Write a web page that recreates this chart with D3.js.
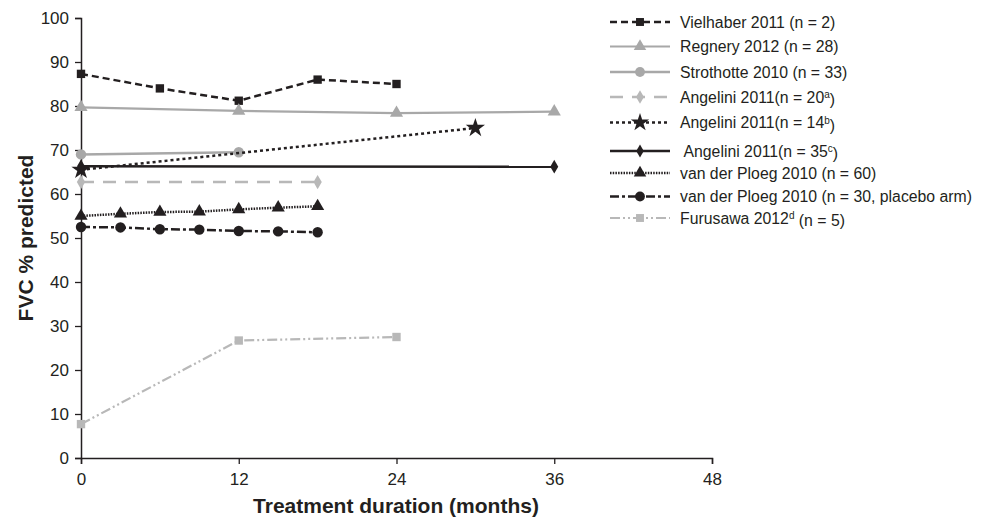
<!DOCTYPE html>
<html>
<head>
<meta charset="utf-8">
<script src="https://cdn.jsdelivr.net/npm/d3@7"></script>
<style>
  body { margin: 0; background: #fff; }
  text { font-family: "Liberation Sans", Arial, sans-serif; fill: #231f20; }
</style>
</head>
<body>
<script>
// months on the x axis, FVC % predicted on y
var vielhaberX = [0, 6, 12, 18, 24];
var vielhaberY = [87.3, 84.0, 81.2, 86.0, 85.0];

var regneryX = [0, 12, 24, 36];
var regneryY = [79.7, 78.9, 78.4, 78.7];

var strothotteX = [0, 12];
var strothotteY = [69.0, 69.5];

var angelini20X = [0, 18];
var angelini20Y = [62.7, 62.7];

var angelini14X = [0, 30];
var angelini14Y = [65.5, 75.0];

var angelini35X = [0, 36];
var angelini35Y = [66.3, 66.2];

var ploeg60X = [0, 3, 6, 9, 12, 15, 18];
var ploeg60Y = [55.0, 55.5, 55.9, 56.0, 56.5, 56.9, 57.2];

var ploeg30X = [0, 3, 6, 9, 12, 15, 18];
var ploeg30Y = [52.5, 52.4, 52.0, 51.9, 51.6, 51.5, 51.3];

var furusawaX = [0, 12, 24];
var furusawaY = [7.7, 26.7, 27.5];

var xTicks = [0, 12, 24, 36, 48];
var yTicks = [0, 10, 20, 30, 40, 50, 60, 70, 80, 90, 100];

// legend labels: [before superscript, superscript, after]
var legendLabels = [
    ["Vielhaber 2011 (n = 2)", "", ""],
    ["Regnery 2012 (n = 28)", "", ""],
    ["Strothotte 2010 (n = 33)", "", ""],
    ["Angelini 2011(n = 20", "a", ")"],
    ["Angelini 2011(n = 14", "b", ")"],
    [" Angelini 2011(n = 35", "c", ")"],
    ["van der Ploeg 2010 (n = 60)", "", ""],
    ["van der Ploeg 2010 (n = 30, placebo arm)", "", ""],
    ["Furusawa 2012", "d", " (n = 5)"]
];

var dark = "#231f20";
var grey = "#a8a8a8";
var lightGrey = "#b8b8b8";

// series styles
var series = [
    {x: vielhaberX, y: vielhaberY, color: dark, width: 2.5, dash: "7,4", sym: d3.symbolSquare, size: 70},
    {x: regneryX, y: regneryY, color: grey, width: 2.2, dash: null, sym: d3.symbolTriangle, size: 75},
    {x: strothotteX, y: strothotteY, color: grey, width: 2.5, dash: null, sym: d3.symbolCircle, size: 85},
    {x: angelini20X, y: angelini20Y, color: lightGrey, width: 2.5, dash: "13,9", sym: d3.symbolDiamond, size: 60},
    {x: angelini14X, y: angelini14Y, color: dark, width: 2.5, dash: "3,3", sym: d3.symbolStar, size: 115},
    {x: angelini35X, y: angelini35Y, color: dark, width: 2.5, dash: null, sym: d3.symbolDiamond, size: 55},
    {x: ploeg60X, y: ploeg60Y, color: dark, width: 2.5, dash: "1.5,1.2", sym: d3.symbolTriangle, size: 75},
    {x: ploeg30X, y: ploeg30Y, color: dark, width: 2.5, dash: "9,3,3,3", sym: d3.symbolCircle, size: 85},
    {x: furusawaX, y: furusawaY, color: lightGrey, width: 2.2, dash: "10,3,2,3,2,3", sym: d3.symbolSquare, size: 70}
];

var w = 986;
var h = 519;

var svg = d3.select("body")
    .append("svg")
    .attr("width", w)
    .attr("height", h);

var xScale = d3.scaleLinear().domain([0, 48]).range([81, 712]);
var yScale = d3.scaleLinear().domain([0, 100]).range([458, 18]);

// axes
var xAxis = d3.axisBottom(xScale).tickValues(xTicks).tickSizeOuter(0).tickSize(6).tickPadding(9);
var gx = svg.append("g")
    .attr("transform", "translate(0," + yScale(0) + ")")
    .call(xAxis);

var yAxis = d3.axisLeft(yScale).tickValues(yTicks).tickSizeOuter(0).tickSize(6).tickPadding(6);
var gy = svg.append("g")
    .attr("transform", "translate(" + xScale(0) + ",0)")
    .call(yAxis);

[gx, gy].forEach(function (g) {
    g.select(".domain").attr("stroke", dark).attr("stroke-width", 1.5);
    g.selectAll(".tick line").attr("stroke", dark).attr("stroke-width", 1.3);
    g.selectAll(".tick text").style("font-size", "17px").attr("fill", dark)
        .style("font-family", "'Liberation Sans', Arial, sans-serif");
});

svg.append("text")
    .attr("x", 396)
    .attr("y", 513)
    .attr("text-anchor", "middle")
    .style("font-size", "21px")
    .style("font-weight", "bold")
    .text("Treatment duration (months)");

svg.append("text")
    .attr("transform", "translate(33," + yScale(50) + ") rotate(-90)")
    .attr("text-anchor", "middle")
    .style("font-size", "21px")
    .style("font-weight", "bold")
    .text("FVC % predicted");

// lines and markers
var line = d3.line()
    .x(function (d) { return xScale(d[0]); })
    .y(function (d) { return yScale(d[1]); });

var drawOrder = [0, 1, 2, 3, 4, 6, 7, 8, 5];
drawOrder.forEach(function (k) {
    var s = series[k];
    var pts = s.x.map(function (v, i) { return [v, s.y[i]]; });
    svg.append("path")
        .datum(pts)
        .attr("fill", "none")
        .attr("stroke", s.color)
        .attr("stroke-width", s.width)
        .attr("stroke-dasharray", s.dash)
        .attr("d", line);
    svg.selectAll(null)
        .data(pts)
        .enter()
        .append("path")
        .attr("transform", function (d) { return "translate(" + xScale(d[0]) + "," + yScale(d[1]) + ")"; })
        .attr("d", d3.symbol().type(s.sym).size(s.size))
        .attr("fill", s.color);
});

// legend
var legendRowY = [22, 46.5, 72, 97, 122.5, 151, 173, 196.5, 218];
var legend = svg.selectAll(".legend")
    .data(series)
    .enter().append("g")
    .attr("class", "legend")
    .attr("transform", function (d, i) { return "translate(0," + legendRowY[i] + ")"; });

legend.append("line")
    .attr("x1", 610)
    .attr("x2", 670)
    .attr("y1", 0)
    .attr("y2", 0)
    .attr("stroke", function (d) { return d.color; })
    .attr("stroke-width", function (d) { return d.width; })
    .attr("stroke-dasharray", function (d) { return d.dash; });

legend.append("path")
    .attr("transform", "translate(640,0)")
    .attr("d", function (d) { return d3.symbol().type(d.sym).size(d.size * 0.9)(); })
    .attr("fill", function (d) { return d.color; });

var lt = legend.append("text")
    .attr("x", 680)
    .attr("y", 0)
    .attr("dy", "0.35em")
    .style("font-size", "15.8px")
    .attr("xml:space", "preserve");

lt.each(function (d, i) {
    var t = d3.select(this);
    var lab = legendLabels[i];
    t.append("tspan").text(lab[0]);
    if (lab[1]) {
        t.append("tspan").attr("dy", "-0.45em").style("font-size", "10px").text(lab[1]);
        t.append("tspan").attr("dy", "0.45em").text(lab[2]);
    }
});
</script>
</body>
</html>
